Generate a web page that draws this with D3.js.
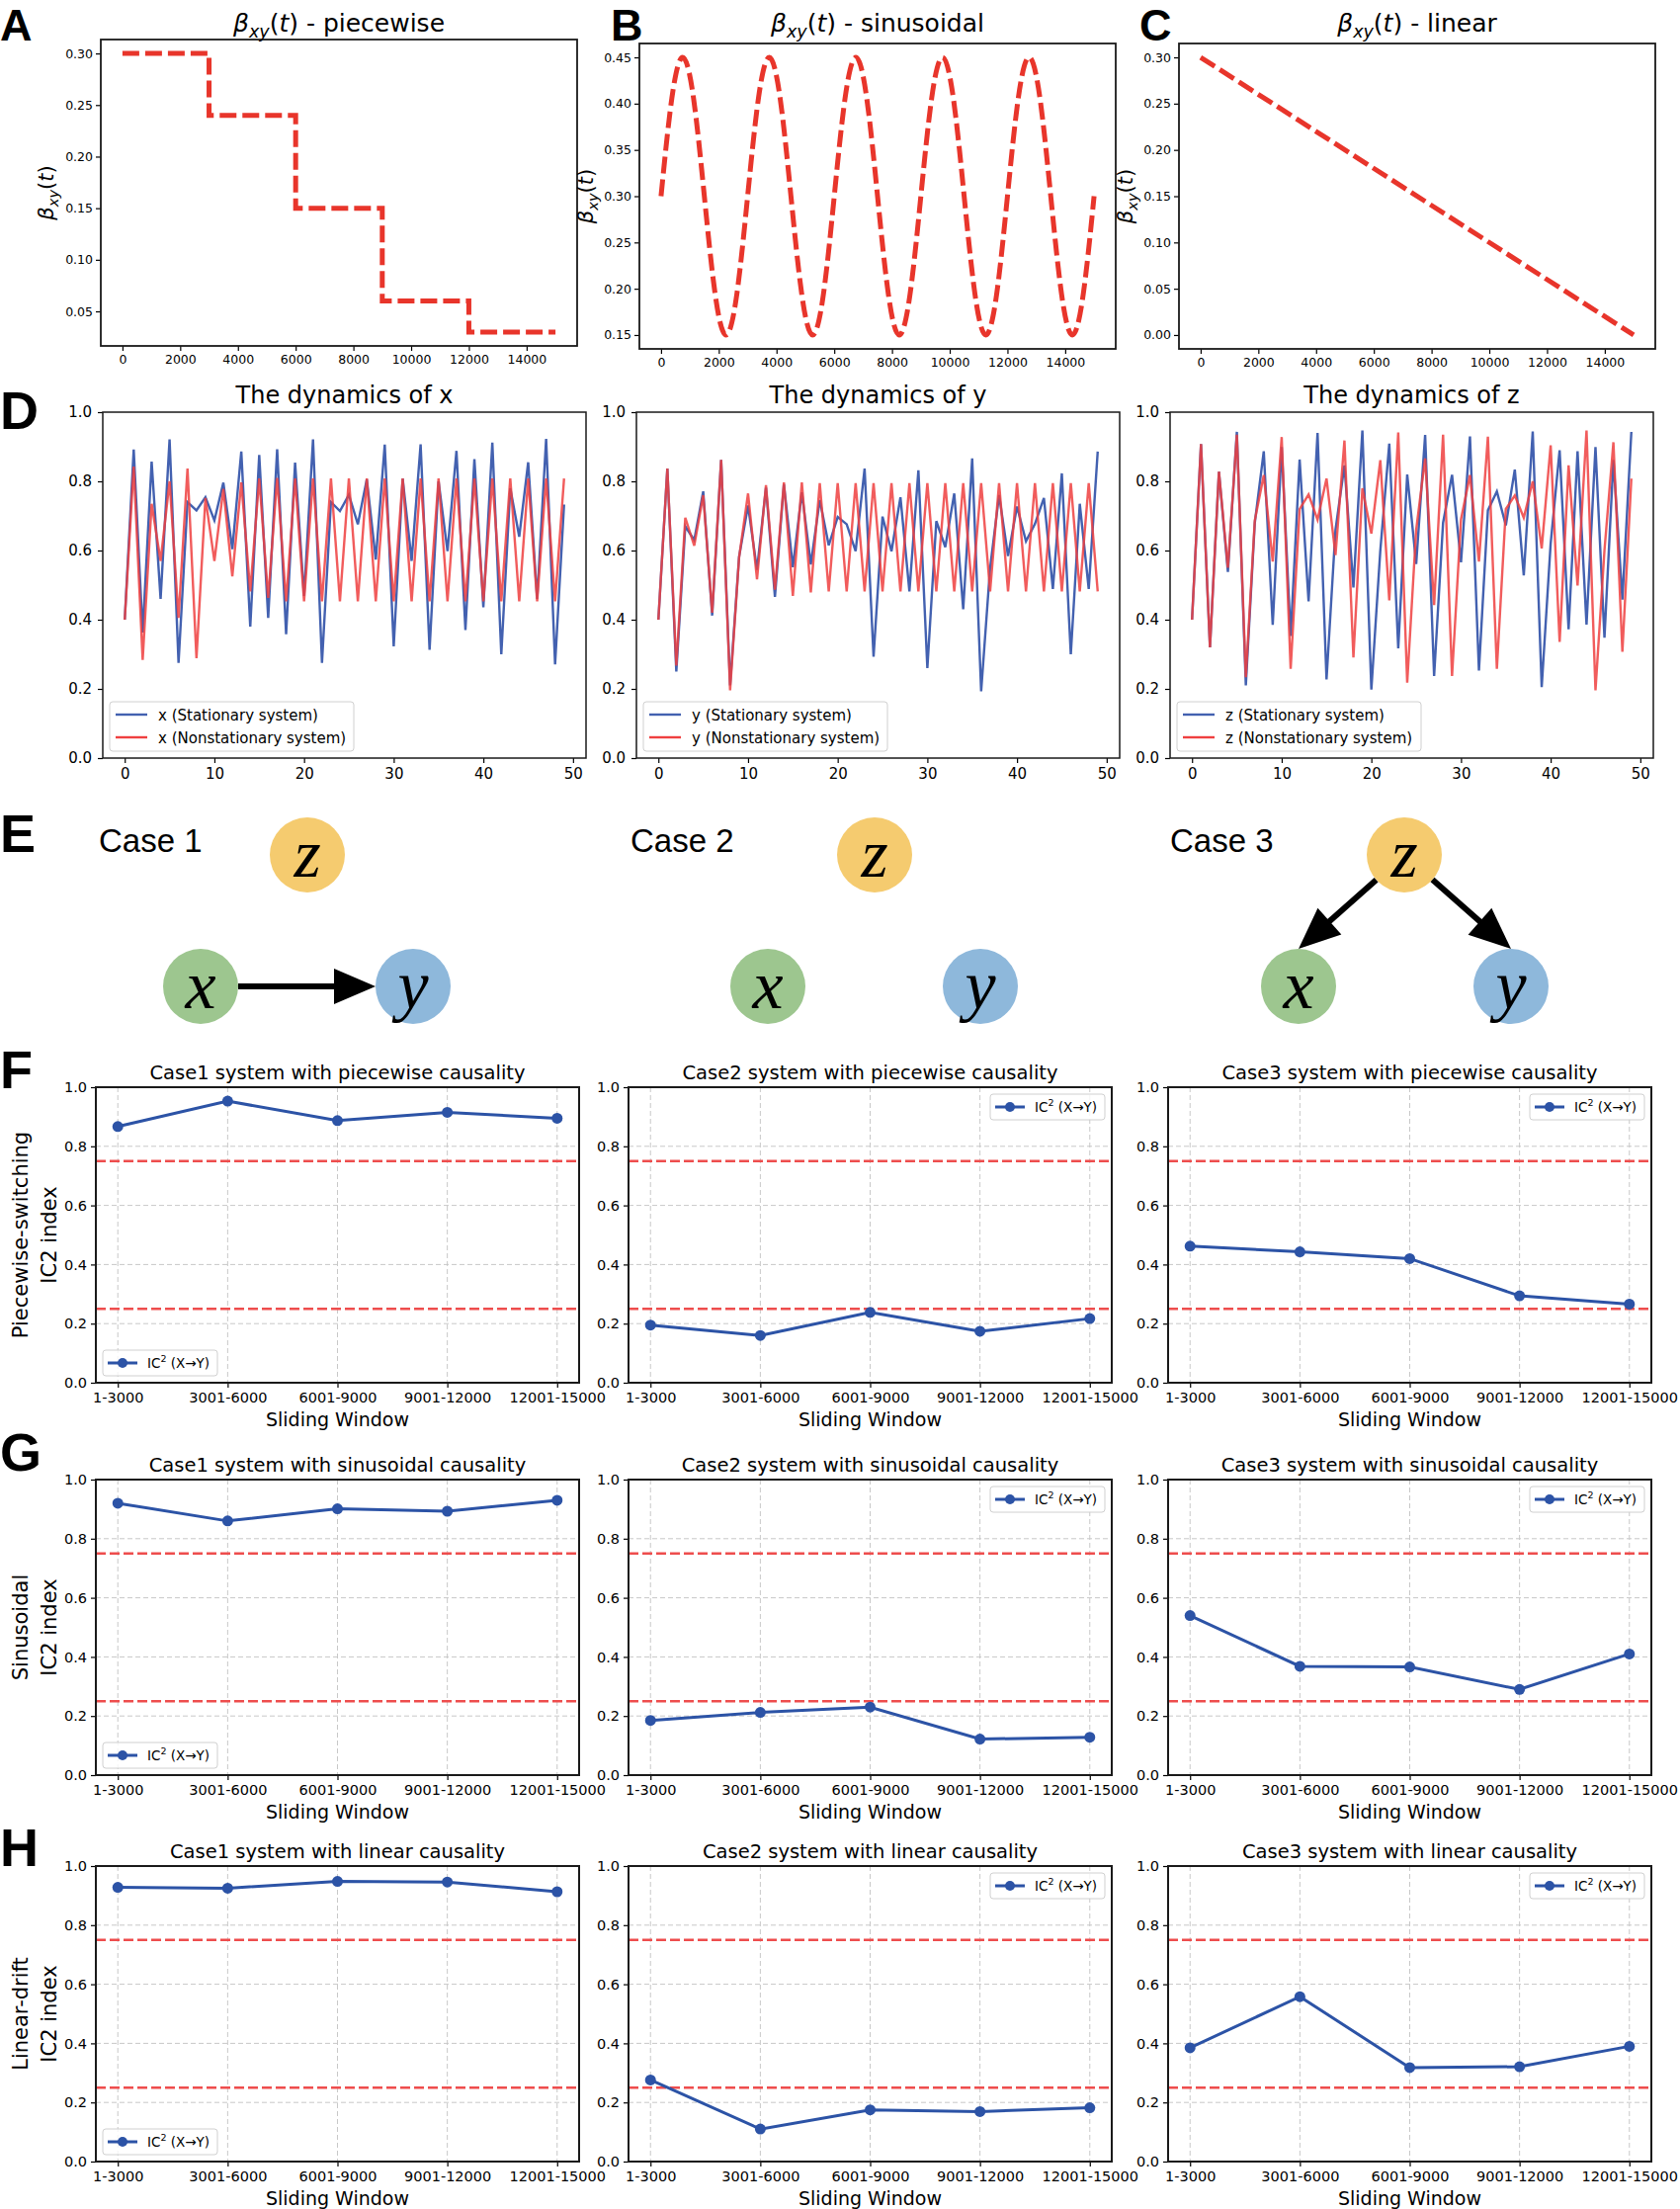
<!DOCTYPE html>
<head>
<meta charset="utf-8">
<title>Time-varying causality figure</title>
<script src="https://d3js.org/d3.v7.min.js"></script>
<style type="text/css">
body { margin: 0; background: #fff; }
svg { display: block; }
</style>
</head>

<body>
<script type="text/javascript">

// ---------- data ----------
// rows A-C : beta_xy(t)
const stepT = [0, 3000, 6000, 9000, 12000, 15000];
const stepBeta = [0.30, 0.24, 0.15, 0.06, 0.03, 0.03];
const sineT = d3.range(0, 15001, 375);
const sineBeta = [0.30, 0.406, 0.45, 0.406, 0.30, 0.194, 0.15, 0.194,
                  0.30, 0.406, 0.45, 0.406, 0.30, 0.194, 0.15, 0.194,
                  0.30, 0.406, 0.45, 0.406, 0.30, 0.194, 0.15, 0.194,
                  0.30, 0.406, 0.45, 0.406, 0.30, 0.194, 0.15, 0.194,
                  0.30, 0.406, 0.45, 0.406, 0.30, 0.194, 0.15, 0.194, 0.30];
const lineT = [0, 15000];
const lineBeta = [0.30, 0.00];

// row D : dynamics (50 steps)
const xStat = [0.40,0.892,0.363,0.857,0.46,0.921,0.275,0.74,0.716,0.754,0.687,0.796,0.604,0.886,0.38,0.876,0.405,0.893,0.358,0.854,
               0.469,0.921,0.275,0.74,0.714,0.761,0.676,0.806,0.574,0.906,0.323,0.808,0.57,0.907,0.313,0.80,0.598,0.888,0.37,0.864,
               0.436,0.912,0.30,0.78,0.64,0.855,0.46,0.923,0.271,0.733];
const xNon  = [0.40,0.843,0.284,0.735,0.57,0.80,0.405,0.837,0.289,0.752,0.57,0.778,0.525,0.797,0.482,0.808,0.463,0.81,0.453,0.808,
               0.453,0.808,0.453,0.808,0.453,0.808,0.453,0.808,0.453,0.808,0.453,0.808,0.453,0.808,0.453,0.808,0.453,0.808,0.453,0.808,
               0.453,0.808,0.453,0.808,0.453,0.808,0.453,0.808,0.453,0.808];
const yStat = [0.40,0.837,0.25,0.67,0.63,0.771,0.412,0.862,0.21,0.582,0.73,0.544,0.782,0.466,0.792,0.552,0.768,0.56,0.746,0.615,
               0.697,0.676,0.598,0.837,0.293,0.698,0.598,0.754,0.482,0.832,0.26,0.685,0.61,0.765,0.43,0.866,0.193,0.55,0.76,0.584,
               0.727,0.627,0.677,0.752,0.489,0.823,0.30,0.735,0.489,0.886];
const yNon  = [0.40,0.837,0.267,0.695,0.614,0.76,0.42,0.862,0.196,0.58,0.765,0.517,0.789,0.487,0.797,0.469,0.797,0.479,0.795,0.482,
               0.795,0.482,0.795,0.482,0.795,0.482,0.795,0.482,0.795,0.482,0.795,0.482,0.795,0.482,0.795,0.482,0.795,0.482,0.795,0.482,
               0.795,0.482,0.795,0.482,0.795,0.482,0.795,0.482,0.795,0.482];
const zStat = [0.40,0.908,0.32,0.828,0.538,0.943,0.21,0.68,0.887,0.385,0.899,0.353,0.863,0.453,0.94,0.227,0.66,0.846,0.493,0.947,
               0.198,0.60,0.909,0.317,0.82,0.561,0.934,0.237,0.68,0.819,0.566,0.93,0.253,0.716,0.771,0.673,0.834,0.528,0.944,0.205,
               0.62,0.89,0.372,0.887,0.386,0.899,0.348,0.862,0.458,0.943];
const zNon  = [0.40,0.908,0.32,0.828,0.55,0.935,0.234,0.687,0.818,0.568,0.928,0.258,0.72,0.762,0.689,0.808,0.587,0.918,0.291,0.78,
               0.649,0.861,0.456,0.941,0.218,0.66,0.866,0.442,0.935,0.237,0.69,0.818,0.568,0.929,0.258,0.72,0.759,0.695,0.80,0.606,
               0.904,0.336,0.846,0.499,0.947,0.196,0.60,0.913,0.307,0.808];

// rows F-H : IC2 index per sliding window
const windows = ["1-3000", "3001-6000", "6001-9000", "9001-12000", "12001-15000"];
const ic2Piecewise  = [[0.867, 0.953, 0.887, 0.915, 0.895],
                       [0.195, 0.160, 0.238, 0.174, 0.217],
                       [0.462, 0.443, 0.420, 0.294, 0.266]];
const ic2Sinusoidal = [[0.920, 0.860, 0.901, 0.893, 0.930],
                       [0.185, 0.212, 0.230, 0.122, 0.128],
                       [0.540, 0.368, 0.366, 0.290, 0.410]];
const ic2Linear     = [[0.928, 0.925, 0.948, 0.946, 0.913],
                       [0.276, 0.110, 0.175, 0.169, 0.182],
                       [0.385, 0.558, 0.318, 0.321, 0.390]];
const thresholds = [0.75, 0.25];

// ---------- svg ----------
const svgW = 1700;
const svgH = 2235;
const svg = d3.select("body").append("svg")
    .attr("width", svgW)
    .attr("height", svgH);
svg.append("rect").attr("width", svgW).attr("height", svgH).attr("fill", "#fff");

const FONT = "DejaVu Sans";

// axes helper
function drawAxes(g, x, y, h, o) {
    const xa = g.append("g").attr("transform", `translate(0,${h})`)
        .call(d3.axisBottom(x).tickValues(o.xTicks).tickFormat(o.xFmt).tickSize(5).tickPadding(o.xPad));
    const ya = g.append("g")
        .call(d3.axisLeft(y).tickValues(o.yTicks).tickFormat(o.yFmt).tickSize(5).tickPadding(o.yPad));
    [xa, ya].forEach(a => {
        a.select(".domain").remove();
        a.selectAll("line").attr("stroke", "#000").attr("stroke-width", 1.2);
        a.selectAll("text").attr("font-family", FONT).attr("font-size", o.fs).attr("fill", "#000");
    });
}
function border(g, w, h, sw) {
    g.append("rect").attr("width", w).attr("height", h)
        .attr("fill", "none").attr("stroke", "#1a1a1a").attr("stroke-width", sw);
}
function letter(ch, x, y, fs) {
    svg.append("text").attr("x", x).attr("y", y).text(ch)
        .attr("font-family", "Liberation Sans").attr("font-weight", "bold").attr("font-size", fs || 54);
}
// beta_xy(t) math text
function betaText(t, fs) {
    t.attr("font-family", FONT).attr("font-size", fs);
    t.append("tspan").attr("font-style", "italic").text("β");
    t.append("tspan").attr("font-style", "italic").attr("font-size", fs * 0.7).attr("dy", fs * 0.22).text("xy");
    t.append("tspan").attr("dy", -fs * 0.22).text("(");
    t.append("tspan").attr("font-style", "italic").text("t");
    t.append("tspan").text(")");
}

// ---------- rows A-C ----------
const betaPanels = [
    {L: "A", lx: 0,    left: 102,  top: 40, h: 310, tt: stepT, vv: stepBeta, curve: d3.curveStepAfter,
     yTicks: [0.05, 0.10, 0.15, 0.20, 0.25, 0.30], name: " - piecewise", ylab: 54},
    {L: "B", lx: 618,  left: 647,  top: 44, h: 309, tt: sineT, vv: sineBeta, curve: d3.curveNatural,
     yTicks: [0.15, 0.20, 0.25, 0.30, 0.35, 0.40, 0.45], name: " - sinusoidal", ylab: 600},
    {L: "C", lx: 1153, left: 1193, top: 44, h: 309, tt: lineT, vv: lineBeta, curve: d3.curveLinear,
     yTicks: [0.00, 0.05, 0.10, 0.15, 0.20, 0.25, 0.30], name: " - linear", ylab: 1146}
];
const betaW = 482;
betaPanels.forEach(p => {
    const g = svg.append("g").attr("transform", `translate(${p.left},${p.top})`);
    const xr = d3.extent(p.tt), yr = d3.extent(p.vv);
    const xm = (xr[1] - xr[0]) * 0.05, ym = (yr[1] - yr[0]) * 0.05;
    const x = d3.scaleLinear().domain([xr[0] - xm, xr[1] + xm]).range([0, betaW]);
    const y = d3.scaleLinear().domain([yr[0] - ym, yr[1] + ym]).range([p.h, 0]);
    drawAxes(g, x, y, p.h, {xTicks: d3.range(0, 14001, 2000), xFmt: d3.format("d"),
        yTicks: p.yTicks, yFmt: d3.format(".2f"), fs: 12.5, xPad: 4, yPad: 3});
    g.append("path")
        .datum(p.tt.map((t, i) => [t, p.vv[i]]))
        .attr("d", d3.line().x(d => x(d[0])).y(d => y(d[1])).curve(p.curve))
        .attr("fill", "none").attr("stroke", "#e8352b").attr("stroke-width", 5)
        .attr("stroke-dasharray", "17,6");
    border(g, betaW, p.h, 1.8);
    const tt = svg.append("text").attr("x", p.left + betaW / 2).attr("y", 32).attr("text-anchor", "middle");
    betaText(tt, 25);
    tt.append("tspan").text(p.name);
    const yl = svg.append("text").attr("text-anchor", "middle")
        .attr("transform", `translate(${p.ylab},${p.top + p.h / 2}) rotate(-90)`);
    betaText(yl, 21);
    // smaller letter here so it stays clear of the top edge and the first tick label
    letter(p.L, p.lx, 40.8, 45);
});

// ---------- row D ----------
const dynPanels = [
    {v: "x", left: 104,  s: xStat, n: xNon},
    {v: "y", left: 644,  s: yStat, n: yNon},
    {v: "z", left: 1184, s: zStat, n: zNon}
];
const dynW = 489, dynTop = 417, dynH = 350;
const blueD = "#4361b0", redD = "#ef4040";
dynPanels.forEach(p => {
    const g = svg.append("g").attr("transform", `translate(${p.left},${dynTop})`);
    const x = d3.scaleLinear().domain([-2.45, 51.45]).range([0, dynW]);
    const y = d3.scaleLinear().domain([0, 1]).range([dynH, 0]);
    drawAxes(g, x, y, dynH, {xTicks: [0, 10, 20, 30, 40, 50], xFmt: d3.format("d"),
        yTicks: [0, 0.2, 0.4, 0.6, 0.8, 1.0], yFmt: d3.format(".1f"), fs: 15, xPad: 5, yPad: 6});
    const line = d3.line().x((d, i) => x(i)).y(d => y(d));
    g.append("path").datum(p.s).attr("d", line)
        .attr("fill", "none").attr("stroke", blueD).attr("stroke-width", 2.4);
    g.append("path").datum(p.n).attr("d", line)
        .attr("fill", "none").attr("stroke", redD).attr("stroke-width", 2.4).attr("opacity", 0.85);
    border(g, dynW, dynH, 1.5);
    // legend
    const lg = g.append("g").attr("transform", `translate(7,${dynH - 57})`);
    lg.append("rect").attr("width", 247).attr("height", 50).attr("rx", 3)
        .attr("fill", "#fff").attr("fill-opacity", 0.8).attr("stroke", "#d0d0d0");
    [[blueD, p.v + " (Stationary system)"], [redD, p.v + " (Nonstationary system)"]].forEach((e, i) => {
        const cy = 13 + i * 23;
        lg.append("line").attr("x1", 6).attr("x2", 38).attr("y1", cy).attr("y2", cy)
            .attr("stroke", e[0]).attr("stroke-width", 2.4);
        lg.append("text").attr("x", 49).attr("y", cy + 5.5).text(e[1])
            .attr("font-family", FONT).attr("font-size", 15);
    });
    svg.append("text").attr("x", p.left + dynW / 2).attr("y", 408).attr("text-anchor", "middle")
        .attr("font-family", FONT).attr("font-size", 24).text("The dynamics of " + p.v);
});
letter("D", 0, 434);

// ---------- row E : causal graphs ----------
letter("E", 0, 862);
const nodeR = 38;
const nodeFill = {z: "#f5cb6f", x: "#9dc68f", y: "#8eb8db"};
const cases = [
    {label: "Case 1", lx: 100,  z: [311, 865],  x: [203, 998],  y: [418, 998],  edges: [["x", "y"]]},
    {label: "Case 2", lx: 638,  z: [885, 865],  x: [777, 998],  y: [992, 998],  edges: []},
    {label: "Case 3", lx: 1184, z: [1421, 865], x: [1314, 998], y: [1529, 998], edges: [["z", "x"], ["z", "y"]]}
];
function arrow(sx, sy, tx, ty) {
    const dx = tx - sx, dy = ty - sy, L = Math.hypot(dx, dy), ux = dx / L, uy = dy / L;
    const hl = 42, hw = 36;
    const bx = tx - ux * hl, by = ty - uy * hl;
    svg.append("line").attr("x1", sx).attr("y1", sy).attr("x2", bx + ux * 3).attr("y2", by + uy * 3)
        .attr("stroke", "#000").attr("stroke-width", 6);
    svg.append("path")
        .attr("d", `M${tx},${ty}L${bx - uy * hw / 2},${by + ux * hw / 2}L${bx + uy * hw / 2},${by - ux * hw / 2}Z`)
        .attr("fill", "#000");
}
cases.forEach(c => {
    svg.append("text").attr("x", c.lx).attr("y", 862).text(c.label)
        .attr("font-family", "Liberation Sans").attr("font-size", 33);
    ["z", "x", "y"].forEach(k => {
        svg.append("circle").attr("cx", c[k][0]).attr("cy", c[k][1]).attr("r", nodeR).attr("fill", nodeFill[k]);
        svg.append("text").attr("x", c[k][0]).attr("y", c[k][1] + 22).attr("text-anchor", "middle")
            .attr("font-family", "Liberation Serif").attr("font-style", "italic").attr("font-size", 70).text(k);
    });
    c.edges.forEach(e => {
        const s = c[e[0]], t = c[e[1]];
        if (e[0] === "x") {
            arrow(s[0] + nodeR, s[1], t[0] - nodeR, t[1]);
        } else {
            // aim at the top of the target node
            const ax = t[0], ay = t[1] - nodeR;
            const d = Math.hypot(ax - s[0], ay - s[1]);
            arrow(s[0] + nodeR * (ax - s[0]) / d, s[1] + nodeR * (ay - s[1]) / d, ax, ay);
        }
    });
});

// ---------- rows F-H ----------
const icRows = [
    {L: "F", ly: 1101, top: 1100, data: ic2Piecewise,  kind: "piecewise",  rowLab: "Piecewise-switching"},
    {L: "G", ly: 1488, top: 1497, data: ic2Sinusoidal, kind: "sinusoidal", rowLab: "Sinusoidal"},
    {L: "H", ly: 1888, top: 1888, data: ic2Linear,     kind: "linear",     rowLab: "Linear-drift"}
];
const icLefts = [97, 636, 1182];
const icW = 489, icH = 299;
const blueF = "#2c53a6", redF = "#ee4d4d";
icRows.forEach(r => {
    letter(r.L, 0, r.ly);
    const cy = r.top + icH / 2;
    [[r.rowLab, 28], ["IC2 index", 57]].forEach(t => {
        svg.append("text").attr("text-anchor", "middle")
            .attr("transform", `translate(${t[1]},${cy}) rotate(-90)`)
            .attr("font-family", FONT).attr("font-size", 21).text(t[0]);
    });
    r.data.forEach((vals, ci) => {
        const g = svg.append("g").attr("transform", `translate(${icLefts[ci]},${r.top})`);
        const x = d3.scaleLinear().domain([-0.2, 4.2]).range([0, icW]);
        const y = d3.scaleLinear().domain([0, 1]).range([icH, 0]);
        const yt = [0, 0.2, 0.4, 0.6, 0.8, 1.0];
        // grid
        g.selectAll(".gx").data(d3.range(windows.length)).enter().append("line")
            .attr("x1", d => x(d)).attr("x2", d => x(d)).attr("y1", 0).attr("y2", icH)
            .attr("stroke", "#c8c8c8").attr("stroke-width", 1).attr("stroke-dasharray", "5,3");
        g.selectAll(".gy").data(yt).enter().append("line")
            .attr("x1", 0).attr("x2", icW).attr("y1", d => y(d)).attr("y2", d => y(d))
            .attr("stroke", "#c8c8c8").attr("stroke-width", 1).attr("stroke-dasharray", "5,3");
        drawAxes(g, x, y, icH, {xTicks: d3.range(windows.length), xFmt: i => windows[i],
            yTicks: yt, yFmt: d3.format(".1f"), fs: 14.5, xPad: 5, yPad: 4});
        // thresholds
        g.selectAll(".th").data(thresholds).enter().append("line")
            .attr("x1", 0).attr("x2", icW).attr("y1", d => y(d)).attr("y2", d => y(d))
            .attr("stroke", redF).attr("stroke-width", 2.4).attr("stroke-dasharray", "10,4");
        // series
        g.append("path").datum(vals)
            .attr("d", d3.line().x((d, i) => x(i)).y(d => y(d)))
            .attr("fill", "none").attr("stroke", blueF).attr("stroke-width", 3);
        g.selectAll(".pt").data(vals).enter().append("circle")
            .attr("cx", (d, i) => x(i)).attr("cy", d => y(d)).attr("r", 5.5).attr("fill", blueF);
        border(g, icW, icH, 2);
        // legend
        const lx = ci === 0 ? 7 : icW - 123, ly = ci === 0 ? icH - 33 : 7;
        const lg = g.append("g").attr("transform", `translate(${lx},${ly})`);
        lg.append("rect").attr("width", 116).attr("height", 26).attr("rx", 3)
            .attr("fill", "#fff").attr("fill-opacity", 0.8).attr("stroke", "#d0d0d0");
        lg.append("line").attr("x1", 5).attr("x2", 35).attr("y1", 13).attr("y2", 13)
            .attr("stroke", blueF).attr("stroke-width", 3);
        lg.append("circle").attr("cx", 20).attr("cy", 13).attr("r", 5).attr("fill", blueF);
        const lt = lg.append("text").attr("x", 45).attr("y", 18)
            .attr("font-family", FONT).attr("font-size", 13.5);
        lt.append("tspan").text("IC");
        lt.append("tspan").attr("font-size", 9.5).attr("dy", -6).text("2");
        lt.append("tspan").attr("dy", 6).text(" (X→Y)");
        // titles
        svg.append("text").attr("x", icLefts[ci] + icW / 2).attr("y", r.top - 8).attr("text-anchor", "middle")
            .attr("font-family", FONT).attr("font-size", 19.5)
            .text(`Case${ci + 1} system with ${r.kind} causality`);
        svg.append("text").attr("x", icLefts[ci] + icW / 2).attr("y", r.top + icH + 44).attr("text-anchor", "middle")
            .attr("font-family", FONT).attr("font-size", 19).text("Sliding Window");
    });
});

</script>
</body>
